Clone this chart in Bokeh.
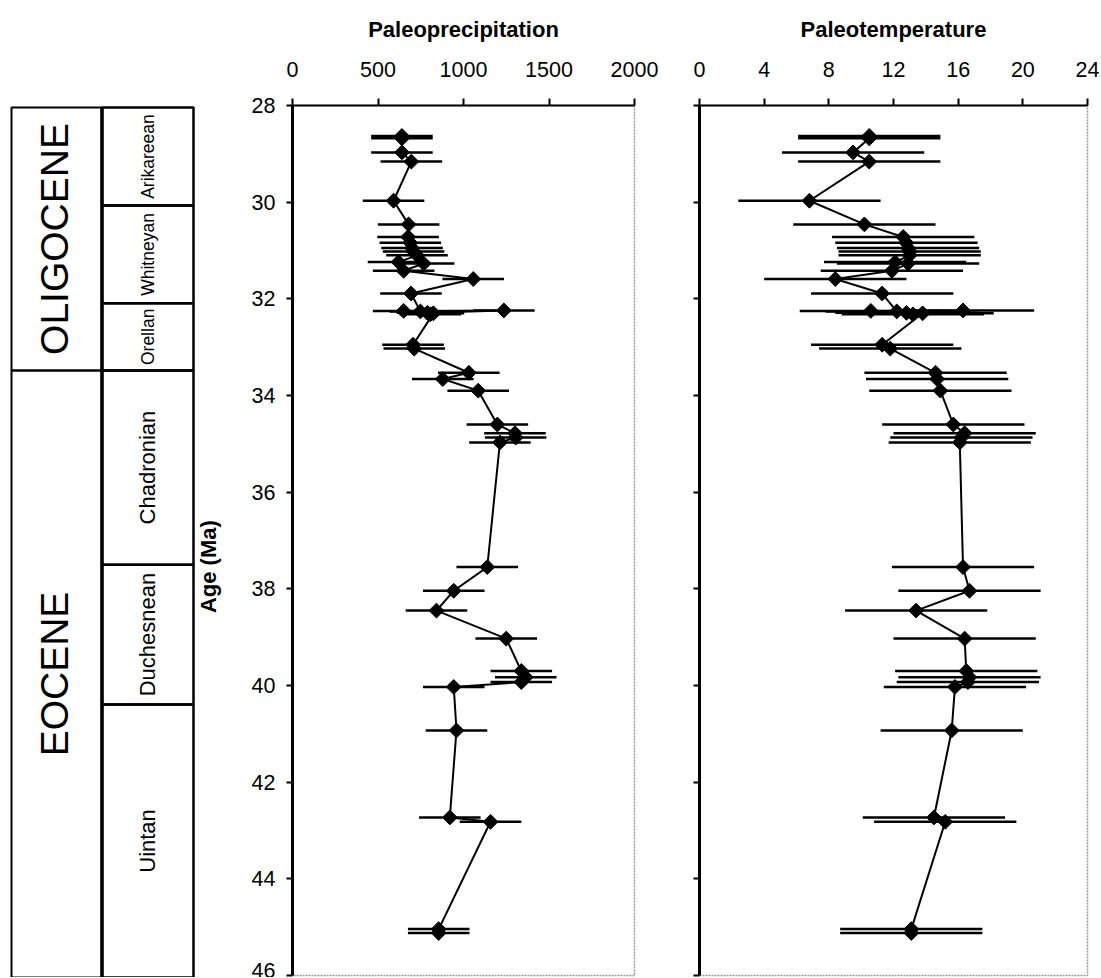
import math
from bokeh.plotting import figure
from bokeh.layouts import row
from bokeh.models import Range1d, FixedTicker, ColumnDataSource, CustomJSTickFormatter
from bokeh.embed import file_html
from bokeh.resources import INLINE
from bokeh.core.properties import value

# ---------------- data ----------------
ages = [28.63, 28.68, 28.97, 29.16, 29.97, 30.46, 30.72, 30.84, 30.95, 31.02,
        31.10, 31.24, 31.27, 31.42, 31.59, 31.89, 32.26, 32.25, 32.24, 32.29,
        32.32, 32.30, 32.95, 33.03, 33.53, 33.66, 33.90, 34.60, 34.78, 34.87,
        34.97, 37.55, 38.04, 38.45, 39.03, 39.70, 39.83, 39.93, 40.03, 40.93,
        42.73, 42.82, 45.04, 45.12]
precip = [640, 640, 640, 695, 591, 679, 676, 689, 699, 708,
          728, 620, 767, 650, 1057, 693, 748, 650, 1236, 789,
          806, 824, 705, 712, 1031, 879, 1086, 1198, 1301, 1305,
          1213, 1139, 943, 842, 1250, 1338, 1364, 1338, 943, 959,
          920, 1158, 855, 855]
precip_err = [180] * 44
temp = [10.5, 10.5, 9.5, 10.5, 6.8, 10.2, 12.6, 12.8, 12.9, 13.0,
        13.0, 12.1, 12.9, 11.9, 8.4, 11.3, 12.2, 10.6, 16.3, 12.8,
        13.2, 13.8, 11.3, 11.8, 14.6, 14.7, 14.9, 15.7, 16.4, 16.2,
        16.1, 16.3, 16.7, 13.4, 16.4, 16.5, 16.7, 16.6, 15.8, 15.6,
        14.5, 15.2, 13.1, 13.1]
temp_err = [4.4] * 44

epochs = ["OLIGOCENE", "EOCENE"]
epoch_tops = [28.0, 33.44]
epoch_bases = [33.44, 46.0]
stages = ["Arikareean", "Whitneyan", "Orellan", "Chadronian", "Duchesnean", "Uintan"]
stage_tops = [28.0, 30.03, 32.05, 33.44, 37.46, 40.35]
stage_bases = [30.03, 32.05, 33.44, 37.46, 40.35, 46.0]

age_ticks = [28, 30, 32, 34, 36, 38, 40, 42, 44, 46]
precip_ticks = [0, 500, 1000, 1500, 2000]
temp_ticks = [0, 4, 8, 12, 16, 20, 24]

FONT = "Liberation Sans"
TICK_SIZE = "21.5px"
TITLE_SIZE = "22px"
TOP = 105

# ---------------- stratigraphic column ----------------
pad = 2 * 18 / 870.0
colfig = figure(frame_width=217, frame_height=874,
                min_border_left=8, min_border_right=0,
                min_border_top=TOP - 2, min_border_bottom=0,
                x_range=Range1d(0, 217), y_range=Range1d(46 + pad, 28 - pad),
                x_axis_location=None, y_axis_location=None,
                toolbar_location=None, output_backend="svg",
                outline_line_color=None)
colfig.grid.visible = False

colfig.quad(left=3, right=93.5, top=epoch_tops, bottom=epoch_bases,
            fill_color=None, line_color="black", line_width=2)
colfig.quad(left=93.5, right=185, top=stage_tops, bottom=stage_bases,
            fill_color=None, line_color="black", line_width=2.5)
colfig.segment(x0=[93.5], x1=[93.5], y0=[stage_tops[0]], y1=[stage_bases[-1]],
               line_color="black", line_width=3.5)

epoch_mid = [(a + b) / 2 for a, b in zip(epoch_tops, epoch_bases)]
colfig.text(x=[46] * len(epochs), y=epoch_mid, text=epochs, angle=math.pi / 2,
            text_align="center", text_baseline="middle",
            text_font=value(FONT), text_font_size="39px", text_color="black")

stage_mid = [(a + b) / 2 for a, b in zip(stage_tops, stage_bases)]
colfig.text(x=[139] * 3, y=stage_mid[:3], text=stages[:3], angle=math.pi / 2,
            text_align="center", text_baseline="middle",
            text_font=value(FONT), text_font_size="17.5px", text_color="black")
colfig.text(x=[139] * 3, y=stage_mid[3:], text=stages[3:], angle=math.pi / 2,
            text_align="center", text_baseline="middle",
            text_font=value(FONT), text_font_size="22px", text_color="black")

colfig.text(x=[199.5], y=[37.5], text=["Age (Ma)"], angle=math.pi / 2,
            text_align="center", text_baseline="middle",
            text_font=value(FONT), text_font_size="22px",
            text_font_style="bold", text_color="black")

# ---------------- data panels ----------------
def make_panel(xs, errs, xr, xticks, title, fw, mbl, mbr, show_ylabels):
    p = figure(frame_width=fw, frame_height=870,
               min_border_left=mbl, min_border_right=mbr,
               min_border_top=TOP, min_border_bottom=2,
               x_range=Range1d(*xr), y_range=Range1d(46, 28),
               x_axis_location="above", y_axis_location="left",
               toolbar_location=None, output_backend="svg")
    p.grid.visible = False
    p.outline_line_color = "#9a9a9a"
    p.outline_line_width = 1.5
    p.outline_line_dash = "2 1"

    xa = p.xaxis[0]
    xa.ticker = FixedTicker(ticks=xticks)
    xa.axis_line_width = 2
    xa.major_tick_line_width = 2
    xa.major_tick_out = 7
    xa.major_tick_in = 0
    xa.minor_tick_line_color = None
    xa.major_label_standoff = 22
    xa.major_label_text_font = FONT
    xa.major_label_text_font_size = TICK_SIZE
    xa.major_label_text_color = "black"
    xa.axis_label = title
    xa.axis_label_text_font = FONT
    xa.axis_label_text_font_size = TITLE_SIZE
    xa.axis_label_text_font_style = "bold"
    xa.axis_label_text_color = "black"
    xa.axis_label_standoff = 17

    ya = p.yaxis[0]
    ya.ticker = FixedTicker(ticks=age_ticks)
    ya.axis_line_width = 3
    ya.major_tick_line_width = 2
    ya.major_tick_out = 6
    ya.major_tick_in = 0
    ya.minor_tick_line_color = None
    ya.major_label_standoff = 11
    ya.major_label_text_font = FONT
    ya.major_label_text_font_size = TICK_SIZE
    ya.major_label_text_color = "black"
    if not show_ylabels:
        ya.formatter = CustomJSTickFormatter(code="return ''")

    src = ColumnDataSource(dict(
        age=ages, v=xs,
        lo=[a - e for a, e in zip(xs, errs)],
        hi=[a + e for a, e in zip(xs, errs)],
    ))
    p.segment(x0="lo", x1="hi", y0="age", y1="age", source=src,
              line_color="black", line_width=2.5)
    p.line(x="v", y="age", source=src, line_color="black", line_width=2)
    p.scatter(x="v", y="age", source=src, marker="square", angle=math.pi / 4,
              size=10.5, fill_color="black", line_color="black")
    return p

pfig = make_panel(precip, precip_err, (0, 2000), precip_ticks, "Paleoprecipitation",
                  342, 67, 26, True)
tfig = make_panel(temp, temp_err, (0, 24), temp_ticks, "Paleotemperature",
                  388, 39, 13, False)

layout = row(colfig, pfig, tfig)
open("out.html", "w").write(file_html(layout, INLINE))
